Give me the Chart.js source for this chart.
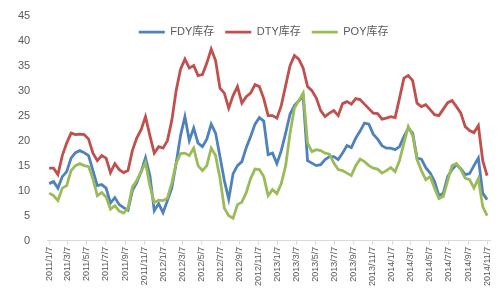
<!DOCTYPE html>
<html>
<head>
<meta charset="utf-8">
<script src="https://cdn.jsdelivr.net/npm/chart.js@4.4.0/dist/chart.umd.min.js"></script>
<style>
  html, body { margin: 0; padding: 0; background: #fff; }
  #wrap { width: 500px; height: 300px; }
</style>
</head>
<body>
<div id="wrap"><canvas id="chart"></canvas></div>
<script>
// 库存 series, one reading every two weeks from 2011/1/7
const startDate = '2011/1/7';
const stepDays = 14;

const tickLabels = [
  '2011/1/7', '2011/3/7', '2011/5/7', '2011/7/7', '2011/9/7', '2011/11/7',
  '2012/1/7', '2012/3/7', '2012/5/7', '2012/7/7', '2012/9/7', '2012/11/7',
  '2013/1/7', '2013/3/7', '2013/5/7', '2013/7/7', '2013/9/7', '2013/11/7',
  '2014/1/7', '2014/3/7', '2014/5/7', '2014/7/7', '2014/9/7', '2014/11/7'
];

const seriesNames = ['FDY库存', 'DTY库存', 'POY库存'];

const fdy = [
  11.4, 11.8, 10.5, 12.8, 13.8, 16.5, 17.6, 18, 17.6, 17,
  14, 11, 11.2, 10.5, 7.5, 8.6, 7.2, 6.6, 6.1, 10,
  11.6, 13.8, 16.6, 13, 6, 7.4, 5.6, 8, 10.5, 15.5,
  21, 24.8, 20, 22.5, 19.5, 18.8, 20.3, 23.3, 21.5, 16.8,
  12, 8.3, 13.4, 15, 15.8, 18.6, 20.8, 23.3, 24.6, 23.9,
  17.2, 17.5, 15.4, 18, 21.5, 25.3, 27, 28, 28.8, 16,
  15.5, 15, 15.2, 16.2, 16.8, 16.8, 16.2, 17.5, 19, 18.6,
  20.5, 21.9, 23.5, 23.3, 21.3, 20.3, 19, 18.5, 18.5, 18.2,
  18.8, 20.8, 22.5, 21.5, 16.5, 16.3, 14.6, 13.5, 11.8, 9,
  9.5, 12.8, 14.2, 15.2, 14.4, 13.2, 13.4, 15, 16.5, 9.5, 8.2
];

const dty = [
  14.5, 14.5, 13.2, 17, 19.5, 21.5, 21.2, 21.3, 21.2, 20.3,
  17.5, 16, 17, 16.5, 13.6, 15.4, 14.2, 13.6, 14, 18,
  20.5, 22.2, 24.8, 21, 17.5, 18.8, 18.5, 20, 24, 30,
  34.3, 36.3, 34.5, 35, 33, 33.2, 35.5, 38.3, 36, 30.5,
  29.5, 26.5, 29, 30.8, 27.5, 28.8, 29.5, 31.2, 30.8, 28.4,
  25, 25, 24.5, 27, 31, 35, 37, 36.3, 34.5, 30.8,
  30, 28.5, 26, 24.8, 25.5, 26, 25, 27.4, 27.8, 27.3,
  28.4, 28.2, 27.3, 26.4, 25.5, 25.4, 24.3, 24.5, 24.8, 24.6,
  28.5, 32.5, 33, 32, 27.5, 26.8, 27.2, 26.2, 25.2, 25,
  26.3, 27.6, 28, 26.8, 25.5, 22.8, 22, 21.6, 23, 16, 13
];

const poy = [
  9.5, 9, 8, 10.5, 11, 14, 15, 15.4, 15, 14.8,
  12.3, 9, 9.6, 8.7, 6.3, 7, 5.9, 5.5, 6.5, 10.7,
  12, 13.8, 15.6, 11, 7.6, 8.1, 8, 8.5, 11.5, 15.5,
  17.4, 17.5, 17, 18.5, 15, 14, 15, 18.5, 17, 12.5,
  6.5, 5, 4.5, 7.2, 7.7, 9.6, 12.4, 14.3, 14.2, 12.8,
  9, 10.2, 9.4, 11.4, 15, 21.5, 26.5, 28, 29.5, 19.5,
  17.8, 18.2, 18, 17.5, 17.3, 15.5, 14.2, 14, 13.5, 13,
  15, 16.3, 15.8, 15, 14.5, 14.3, 13.5, 14, 14.6, 13.8,
  16, 19.5, 22.8, 21, 16.2, 14, 12.2, 12.8, 10.5, 8.4,
  8.8, 12, 15, 15.4, 14.2, 12.5, 12.2, 10.5, 12.4, 6.8, 5
];

// date label -> position on the x axis (in steps)
function toStep(label) {
  const [y, m, d] = label.split('/').map(Number);
  const [y0, m0, d0] = startDate.split('/').map(Number);
  return (Date.UTC(y, m - 1, d) - Date.UTC(y0, m0 - 1, d0)) / 86400000 / stepDays;
}

const points = arr => arr.map((v, i) => ({ x: i, y: v }));

// legend sits on top of the plot: no layout height, but keep its box for drawing
const overlayLegend = {
  id: 'overlayLegend',
  beforeLayout(chart) {
    const lg = chart.legend;
    if (lg && !lg._overlay) {
      const fit = lg.fit;
      lg.fit = function () {
        fit.call(this);
        this._realHeight = this.height;
        this.height = 0;
      };
      lg._overlay = true;
    }
  },
  afterLayout(chart) {
    const lg = chart.legend;
    if (lg && lg._realHeight) {
      lg.height = lg._realHeight;
      lg.bottom = lg.top + lg._realHeight;
      lg.left -= 5;
      lg.right -= 5;
    }
  }
};

Chart.defaults.font.family = "'Liberation Sans', 'Noto Sans CJK SC', sans-serif";
Chart.defaults.color = '#595959';

const lineStyle = (color, order) => ({
  borderColor: color,
  backgroundColor: color,
  borderWidth: 2.8,
  pointRadius: 0,
  tension: 0,
  order: order
});

new Chart(document.getElementById('chart'), {
  type: 'line',
  data: {
    datasets: [
      { label: seriesNames[0], data: points(fdy), ...lineStyle('#4F81BD', 2) },
      { label: seriesNames[1], data: points(dty), ...lineStyle('#C0504D', 1) },
      { label: seriesNames[2], data: points(poy), ...lineStyle('#9BBB59', 0) }
    ]
  },
  options: {
    responsive: true,
    maintainAspectRatio: false,
    animation: false,
    layout: { padding: { top: 1, left: 9, right: 10, bottom: 12 } },
    plugins: {
      tooltip: { enabled: false },
      legend: {
        position: 'top',
        fullSize: false,
        labels: {
          boxWidth: 26,
          boxHeight: 0,
          padding: 11,
          color: '#595959',
          font: { size: 11 },
          sort: (a, b) => a.datasetIndex - b.datasetIndex
        }
      }
    },
    scales: {
      x: {
        type: 'linear',
        min: -0.44,
        max: 100.66,
        grid: {
          display: true,
          drawOnChartArea: false,
          drawTicks: true,
          tickLength: 4,
          color: '#D9D9D9'
        },
        border: { display: true, color: '#D9D9D9' },
        afterBuildTicks(scale) {
          scale.ticks = tickLabels.map(l => ({ value: toStep(l) }));
        },
        ticks: {
          autoSkip: false,
          maxRotation: 90,
          minRotation: 90,
          padding: 2,
          color: '#595959',
          font: { size: 9 },
          callback: (v, i) => tickLabels[i]
        }
      },
      y: {
        min: 0,
        max: 45,
        grid: { display: false },
        border: { display: false },
        ticks: {
          stepSize: 5,
          padding: 9,
          color: '#595959',
          font: { size: 11 }
        }
      }
    }
  },
  plugins: [overlayLegend]
});
</script>
</body>
</html>
